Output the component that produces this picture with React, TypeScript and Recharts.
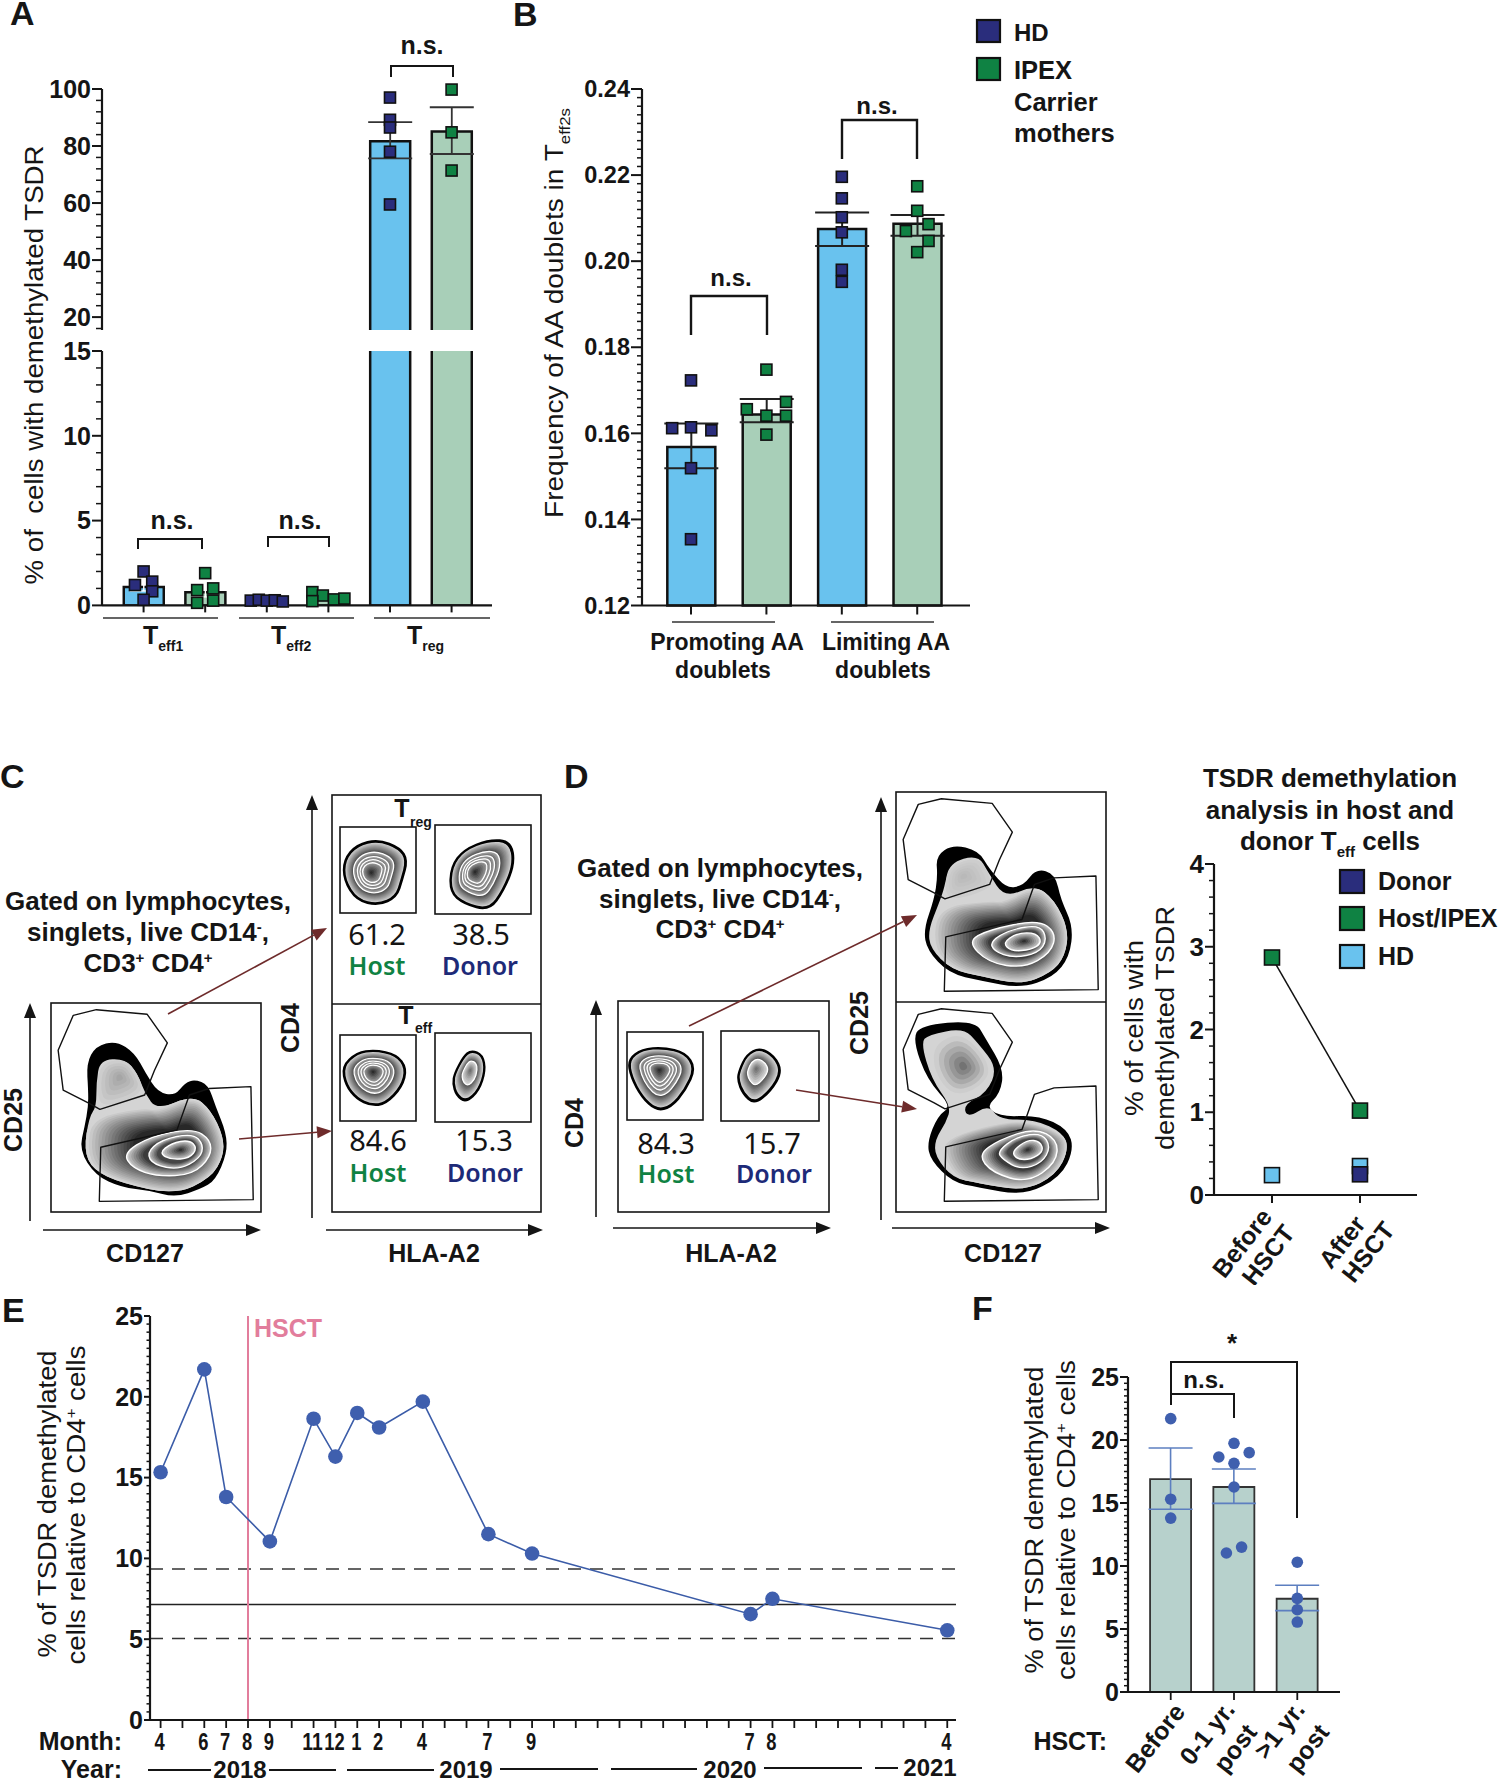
import React from 'react';
import { ComposedChart, ScatterChart, Scatter, Bar, Cell, Line, XAxis, YAxis, ErrorBar, ReferenceLine } from 'recharts';

/* ---------- palette ---------- */
const INK = '#151515';
const NAVY = '#2a2d7c';
const GREEN = '#0f8243';
const SKY = '#69c2ee';
const MINT = '#a8cfb8';
const TEAL = '#b7d1cc';
const DOT = '#3f5fae';
const PINK = '#e27d9c';
const MAROON = '#6e2b2b';
const SANS = '"Liberation Sans", Arial, sans-serif';
const NOTO = '"Noto Sans", sans-serif';

/* ---------- panel A ---------- */
const aMeans = [1.08, 0.78, 0.45, 0.5, 81.7, 85.1];
const aErrors: ([number, number] | null)[] = [[0.23, 0.22], [0.28, 0.3], null, null, [6, 6.7], [7.9, 8.5]];
const aFills = [SKY, MINT, SKY, MINT, SKY, MINT];
const aHdLow = [
  { x: -0.14, y: 1.2 }, { x: 0, y: 2.0 }, { x: 0.14, y: 1.4 }, { x: 0.14, y: 0.83 }, { x: 0, y: 0.33 },
  { x: 1.74, y: 0.28 }, { x: 1.87, y: 0.33 }, { x: 2, y: 0.28 }, { x: 2.13, y: 0.3 }, { x: 2.26, y: 0.23 },
];
const aIpexLow = [
  { x: 1, y: 1.9 }, { x: 0.87, y: 0.9 }, { x: 1.13, y: 1.0 }, { x: 1.13, y: 0.28 }, { x: 0.87, y: 0.15 },
  { x: 2.74, y: 0.78 }, { x: 2.91, y: 0.58 }, { x: 2.74, y: 0.25 }, { x: 3.09, y: 0.35 }, { x: 3.26, y: 0.4 },
];
const aHdHigh = [{ x: 4, y: 97 }, { x: 4, y: 89.2 }, { x: 4, y: 86.5 }, { x: 4, y: 78 }, { x: 4, y: 59.5 }];
const aIpexHigh = [{ x: 5, y: 99.8 }, { x: 5, y: 84.8 }, { x: 5, y: 71.4 }];
const aUpperTicks = [16, 20, 24, 28, 32, 36, 40, 44, 48, 52, 56, 60, 64, 68, 72, 76, 80, 84, 88, 92, 96, 100];
const aLowerTicks = [0, 1, 2, 3, 4, 5, 6, 7, 8, 9, 10, 11, 12, 13, 14, 15];
const aPositions = [0, 1, 2, 3, 4, 5];

/* ---------- panel B ---------- */
const bMeans = [0.1568, 0.1644, 0.2075, 0.2087];
const bErrors: [number, number][] = [[0.0049, 0.0055], [0.0018, 0.0036], [0.004, 0.0038], [0.0028, 0.002]];
const bFills = [SKY, MINT, SKY, MINT];
const bHd = [
  { x: 0, y: 0.1723 }, { x: -0.25, y: 0.1612 }, { x: 0, y: 0.1614 }, { x: 0.27, y: 0.1607 }, { x: 0, y: 0.1519 }, { x: 0, y: 0.1354 },
  { x: 2, y: 0.2196 }, { x: 2, y: 0.2146 }, { x: 2, y: 0.2102 }, { x: 2, y: 0.2067 }, { x: 2, y: 0.198 }, { x: 2, y: 0.1952 },
];
const bIpex = [
  { x: 1, y: 0.1748 }, { x: 1.26, y: 0.1673 }, { x: 0.74, y: 0.1656 }, { x: 1.26, y: 0.1641 }, { x: 1, y: 0.1641 }, { x: 1, y: 0.1597 },
  { x: 3, y: 0.2174 }, { x: 3, y: 0.2117 }, { x: 3.15, y: 0.2086 }, { x: 2.85, y: 0.207 }, { x: 3.15, y: 0.2047 }, { x: 3, y: 0.2021 },
];
const bPositions = [0, 1, 2, 3];
const bTicks: number[] = [];
for (let k = 0; k <= 60; k++) bTicks.push(Number((0.12 + k * 0.002).toFixed(3)));

/* ---------- panel D, small plot ---------- */
const dHost = [{ x: 0, y: 2.87 }, { x: 1, y: 1.02 }];
const dHd = [{ x: 0, y: 0.24 }, { x: 1, y: 0.35 }];
const dDonor = [{ x: 1, y: 0.25 }];
const dTickLines = [['Before', 'HSCT'], ['After', 'HSCT']];
const dYTicks = [0, 0.2, 0.4, 0.6, 0.8, 1, 1.2, 1.4, 1.6, 1.8, 2, 2.2, 2.4, 2.6, 2.8, 3, 3.2, 3.4, 3.6, 3.8, 4];

/* ---------- panel E ---------- */
const eMonthIndex = [0, 2, 3, 5, 7, 8, 9, 10, 12, 15, 17, 27, 28, 36];
const eValues = [15.33, 21.7, 13.8, 11.05, 18.64, 16.3, 19, 18.1, 19.7, 11.5, 10.3, 6.55, 7.5, 5.55];
const eTickIndex = [4, 6, 7, 8, 9, 11, 12, 1, 2, 4, 7, 9, 7, 8, 4];
const eTickAt = [0, 2, 3, 4, 5, 7, 8, 9, 10, 12, 15, 17, 27, 28, 36];
const eAllMonths: number[] = [];
for (let k = 0; k <= 36; k++) eAllMonths.push(k);
const eYTicks: number[] = [];
for (let k = 0; k <= 50; k++) eYTicks.push(k / 2);
const eUpperBand = 9.34;
const eMean = 7.14;
const eLowerBand = 5.04;
const eHsct = 4;

/* ---------- panel F ---------- */
const fMeans = [16.9, 16.27, 7.4];
const fErrors: [number, number][] = [[2.4, 2.47], [1.3, 1.43], [0.94, 1.07]];
const fPoints = [
  { x: 0, y: 21.7 }, { x: 0, y: 15.3 }, { x: 0, y: 13.8 },
  { x: 1, y: 19.74 }, { x: 0.76, y: 18.65 }, { x: 1.24, y: 19 }, { x: 1, y: 18.15 }, { x: 1, y: 16.27 }, { x: 1.12, y: 11.5 }, { x: 0.88, y: 11.03 },
  { x: 2, y: 10.3 }, { x: 2, y: 7.43 }, { x: 2, y: 6.53 }, { x: 2, y: 5.55 },
];
const fTickLines = [['Before'], ['0-1 yr.', 'post'], ['>1 yr.', 'post']];

/* ---------- flow cytometry outlines (0-100 inside each plot box) ---------- */
type Pt = [number, number];
const gateTop: Pt[] = [[10.6, 5.9], [21.6, 3.2], [45.8, 5.4], [55.4, 19.1], [49.2, 32.4], [44.6, 44], [23.3, 50.9], [18.2, 48], [5.8, 41.7], [3.4, 22.6]];
const gateBottom: Pt[] = [[75.3, 40.9], [95.2, 40], [96.3, 94.1], [23, 94.9], [23.7, 69], [60, 60.7], [65.9, 44]];

const cBlack: Pt[] = [[31, 18.6], [39.5, 24.2], [44.6, 33.7], [50.6, 43.2], [59.1, 44.8], [64.2, 38.5], [68.5, 37.2], [74.4, 39.3], [77.9, 49.6], [83, 62.3], [83.3, 71.9], [77.9, 84.6], [71, 88.6], [59.1, 92.5], [47.2, 89.3], [33.6, 87.8], [21.6, 82.2], [14, 70.3], [16.5, 59.1], [18.2, 49.6], [18.2, 41.7], [17.4, 28.9], [21.6, 21]];
const cInner: Pt[] = [[23.3, 27.3], [35.2, 26.6], [41.2, 33.7], [44.6, 43.2], [50.6, 51.2], [67.6, 44], [76.1, 51.2], [82.1, 63.9], [82.1, 73.4], [76.1, 83.8], [59.1, 91.7], [33.6, 86.2], [19.9, 79.8], [15.7, 70.3], [18.2, 54.4], [21.6, 49.6], [21.6, 37.9]];
const cLobe: Pt[] = [[23.3, 28.9], [35.2, 26.6], [41.2, 33.7], [44.6, 43.2], [25, 50.4], [21.6, 43.2]];
const cCore: Pt[] = [[15.7, 70.3], [18.2, 54.4], [43.8, 49.6], [50.6, 51.2], [67.6, 44], [76.1, 51.2], [82.1, 63.9], [82.1, 73.4], [76.1, 83.8], [59.1, 91.7], [33.6, 86.2], [19.9, 79.8]];
const cC1: Pt[] = [[34.4, 71.9], [47.2, 63.9], [67.6, 59.9], [76.1, 65.5], [76.1, 73.4], [67.6, 82.2], [50.6, 83], [38.7, 79]];
const cC2: Pt[] = [[45.5, 71.9], [52.3, 65.5], [67.6, 62.3], [72.7, 67.9], [71, 74.3], [60.8, 79.8], [48.9, 77.4]];
const cC3: Pt[] = [[51.4, 71.9], [57.4, 67], [65.9, 65.5], [69.7, 69.5], [65.9, 74.3], [57.4, 75]];

const dtBlack: Pt[] = [[27.1, 25.6], [38.9, 28.3], [44.1, 37], [52.5, 46.5], [61, 44.9], [66.9, 37], [75.4, 39.4], [78, 51.3], [83.9, 64], [82.2, 78.3], [74.6, 87.8], [59.3, 92.9], [40.7, 89.4], [25.4, 86], [15.3, 75.1], [13.6, 65.6], [18.6, 51.3], [20.3, 40.2], [19.5, 30.6]];
const dtInner: Pt[] = [[25.4, 33.8], [39, 29.8], [44.1, 38.6], [51.7, 50.5], [66.1, 44.2], [75.4, 51.3], [82.2, 65.6], [80.5, 78.3], [73.7, 86.2], [59.3, 91.8], [40.7, 87.8], [26.3, 84.6], [16.3, 74.3], [15.4, 65.6], [20.5, 52.9], [23, 45.7]];
const dtLobe: Pt[] = [[25.4, 35], [39, 31], [44.1, 38.6], [46, 46], [26, 52], [23, 45.7]];
const dtCore: Pt[] = [[16.3, 74.3], [18.6, 54.4], [44.1, 51.3], [50.8, 52.1], [66.1, 44.2], [75.4, 51.3], [82.2, 65.6], [80.5, 78.3], [73.7, 86.2], [59.3, 91.8], [40.7, 87.8], [26.3, 84.6]];
const dtC1: Pt[] = [[33.9, 71.1], [44.1, 65.6], [67.8, 60.8], [76.3, 67.1], [73.7, 76.7], [61, 83.8], [44.1, 81.4]];
const dtC2: Pt[] = [[44.9, 71.1], [54.2, 65.6], [68.6, 63.2], [72, 70.3], [67.8, 76.7], [55.9, 79], [46.6, 75.9]];
const dtC3: Pt[] = [[50.8, 71.9], [57.6, 67.1], [66.9, 67.1], [69.5, 71.9], [64.4, 75.1], [55.1, 75.9]];

const dbBlack: Pt[] = [[11.9, 11.6], [37.3, 9.2], [42.4, 17.9], [50.8, 32.2], [49.2, 43.3], [42.4, 49.7], [49.2, 55.2], [67.8, 54.4], [81.4, 60.8], [84.2, 70.3], [78, 83], [61, 91.7], [39, 87.8], [27.1, 85.4], [16.9, 75], [15.3, 67], [20.3, 54.4], [27.1, 49.7], [15.3, 37], [8.5, 18]];
const dbInner: Pt[] = [[15.3, 15.6], [32.2, 12.4], [39, 19.5], [48.3, 31.4], [43.2, 43.3], [32.2, 48.9], [33.9, 55.2], [44.1, 49], [49.2, 56], [66.1, 56], [79.7, 62.4], [82.2, 70.3], [76.3, 82.2], [61, 90.1], [39, 86.2], [27.1, 83.8], [18.6, 73.5], [18.6, 65.6], [23.7, 57.6], [26.3, 49.7], [17, 37], [11.9, 19.5]];
const dbLobe: Pt[] = [[18, 20], [32, 14], [46, 31], [40, 41], [27, 45], [18, 33]];
const dbCore: Pt[] = [[20.3, 70.3], [25.4, 64], [44.1, 58.4], [61, 56], [79.7, 62.4], [82.2, 70.3], [76.3, 82.2], [61, 90.1], [39, 86.2], [27.1, 83.8]];
const dbC1: Pt[] = [[39, 72.7], [49.2, 65.6], [66.1, 60], [77.1, 65.6], [76.3, 76.7], [62.7, 86.2], [45.8, 81.4]];
const dbC2: Pt[] = [[48.3, 71.1], [57.6, 64], [69.5, 62.4], [73.7, 69], [69.5, 76.7], [59.3, 79.8], [50.8, 75]];
const dbC3: Pt[] = [[55.1, 71.1], [62.7, 65.6], [68.6, 66.3], [70.3, 71.1], [64.4, 75], [57.6, 75]];

const smallTregHost: Pt[] = [[6, 38.5], [22.4, 21.2], [50.5, 15.4], [78.5, 25], [87.9, 38.5], [80.8, 61.5], [73.8, 80.8], [50.5, 90.4], [22.4, 84.6], [6, 61.5]];
const smallTregDonor: Pt[] = [[17.4, 47], [30.4, 28.4], [56.3, 17.2], [78.5, 19], [82.2, 43.3], [71, 73.1], [56.3, 95.5], [30.4, 88], [16.3, 75]];
const smallTeffHost: Pt[] = [[3.7, 36.8], [22.4, 21.3], [45.8, 18.2], [73.8, 23.3], [86.9, 38.8], [80.8, 60.1], [59.8, 79.5], [41.1, 81.4], [22.4, 73.6], [8.4, 58.1]];
const smallTeffDonor: Pt[] = [[21.1, 45.5], [30.4, 26.9], [37.8, 20.1], [48.9, 25], [51.8, 41.8], [45.2, 64.2], [32.2, 77.2], [22.9, 69.8], [19.3, 56.7]];
const smallDHost: Pt[] = [[2.3, 31.6], [20, 20.2], [48.1, 18.3], [76.2, 24], [89.3, 41], [76.2, 65.8], [57.5, 84.8], [38.8, 88.6], [20, 73.5], [6, 50.7]];
const smallDDonor: Pt[] = [[19.4, 43.5], [26.7, 26.8], [39.6, 19.3], [54.2, 28.6], [61.5, 45.3], [50.5, 65.8], [34, 80.7], [23, 69.5], [17.6, 54.6]];

/* ---------- flow layer builders ---------- */
type Layer = { pts: Pt[]; fill: string; stroke: string; sw: number; smooth: boolean };
const grey = (g: number) => `rgb(${Math.round(g)},${Math.round(g)},${Math.round(g)})`;
const shrink = (o: Pt[], c: Pt, s: number): Pt[] => o.map(([x, y]) => [c[0] + (x - c[0]) * s, c[1] + (y - c[1]) * s]);
function band(o: Pt[], c: Pt, s0: number, s1: number, g0: number, g1: number, n: number, edge: string, esw: number): Layer[] {
  const out: Layer[] = [];
  for (let i = 0; i < n; i++) {
    const t = n === 1 ? 0 : i / (n - 1);
    out.push({
      pts: shrink(o, c, s0 + (s1 - s0) * t),
      fill: grey(g0 + (g1 - g0) * t),
      stroke: i === 0 ? edge : 'none',
      sw: i === 0 ? esw : 0,
      smooth: true,
    });
  }
  return out;
}
function smallBlob(o: Pt[], c: Pt, rings: number): Layer[] {
  if (rings === 1) {
    return [
      ...band(o, c, 1, 0.5, 222, 70, 12, '#000', 3.5),
      ...band(o, c, 0.5, 0, 215, 95, 8, '#fff', 1.3),
    ];
  }
  return [
    ...band(o, c, 1, 0.66, 215, 62, 12, '#000', 3.5),
    ...band(o, c, 0.66, 0.52, 170, 85, 5, '#fff', 1.3),
    ...band(o, c, 0.52, 0.42, 165, 95, 4, '#fff', 1.3),
    ...band(o, c, 0.42, 0.32, 165, 95, 4, '#fff', 1.3),
    ...band(o, c, 0.32, 0, 150, 25, 8, '#fff', 1.3),
  ];
}
function bigBlob(black: Pt[], inner: Pt[], lobe: Pt[], lobeC: Pt, lobeEnd: number, core: Pt[], c1: Pt[], c2: Pt[], c3: Pt[], c: Pt): Layer[] {
  return [
    { pts: black, fill: '#000', stroke: '#000', sw: 2, smooth: true },
    { pts: inner, fill: grey(212), stroke: 'none', sw: 0, smooth: true },
    ...band(lobe, lobeC, 1, 0.15, 205, lobeEnd, 6, 'none', 0),
    ...band(core, c, 1, 0.5, 212, 40, 16, 'none', 0),
    ...band(c1, c, 1, 0.7, 200, 60, 8, '#fff', 1.4),
    ...band(c2, c, 1, 0.75, 190, 70, 6, '#fff', 1.4),
    ...band(c3, c, 1, 0, 200, 25, 9, '#fff', 1.4),
  ];
}
const gateLayers: Layer[] = [
  { pts: gateTop, fill: 'none', stroke: '#111', sw: 1.4, smooth: false },
  { pts: gateBottom, fill: 'none', stroke: '#111', sw: 1.4, smooth: false },
];
const layersC = [...bigBlob(cBlack, cInner, cLobe, [32.7, 35.3], 165, cCore, cC1, cC2, cC3, [61.7, 70.3]), ...gateLayers];
const layersDT = [...bigBlob(dtBlack, dtInner, dtLobe, [32, 40], 185, dtCore, dtC1, dtC2, dtC3, [61, 71]), ...gateLayers];
const layersDB = [...bigBlob(dbBlack, dbInner, dbLobe, [32.2, 30.6], 115, dbCore, dbC1, dbC2, dbC3, [62.7, 70.3]), ...gateLayers];

function pathOf(pts: { x: number; y: number }[], smooth: boolean) {
  if (!smooth) return 'M' + pts.map((p) => `${p.x},${p.y}`).join('L') + 'Z';
  const n = pts.length;
  const mid = (a: any, b: any) => ({ x: (a.x + b.x) / 2, y: (a.y + b.y) / 2 });
  const s = mid(pts[n - 1], pts[0]);
  let d = `M${s.x},${s.y}`;
  for (let i = 0; i < n; i++) {
    const m = mid(pts[i], pts[(i + 1) % n]);
    d += `Q${pts[i].x},${pts[i].y} ${m.x},${m.y}`;
  }
  return d + 'Z';
}

function FlowPlot({ left, top, width, height, layers }: { left: number; top: number; width: number; height: number; layers: Layer[] }) {
  return (
    <div style={{ position: 'absolute', left, top }}>
      <ScatterChart width={width} height={height} margin={{ top: 0, right: 0, bottom: 0, left: 0 }}>
        <XAxis type="number" dataKey="x" domain={[0, 100]} hide />
        <YAxis type="number" dataKey="y" domain={[0, 100]} reversed hide />
        {layers.map((l, i) => (
          <Scatter
            key={i}
            data={l.pts.map(([x, y]) => ({ x, y }))}
            isAnimationActive={false}
            shape={() => <g />}
            line={(p: any) => <path d={pathOf(p.points, l.smooth)} fill={l.fill} stroke={l.stroke} strokeWidth={l.sw} strokeLinejoin="round" />}
          />
        ))}
      </ScatterChart>
    </div>
  );
}

/* ---------- marks and ticks ---------- */
const square = (fill: string, size = 11) => (p: any) => (
  <rect x={p.cx - size / 2} y={p.cy - size / 2} width={size} height={size} fill={fill} stroke="#111" strokeWidth={1.6} />
);
const circle = (r: number) => (p: any) => <circle cx={p.cx} cy={p.cy} r={r} fill={DOT} />;

function yTick(isMajor: (v: number) => boolean, fmt: (v: number) => string, fs: number, majorLen: number, minorLen: number) {
  return (p: any) => {
    const v = p.payload.value;
    const major = isMajor(v);
    return (
      <g>
        <line x1={p.x} x2={p.x - (major ? majorLen : minorLen)} y1={p.y} y2={p.y} stroke={INK} strokeWidth={major ? 2 : 1.5} />
        {major ? (
          <text x={p.x - majorLen - 1} y={p.y} dy="0.35em" textAnchor="end" fontFamily={SANS} fontWeight="bold" fontSize={fs} fill={INK}>
            {fmt(v)}
          </text>
        ) : null}
      </g>
    );
  };
}
const xTickPlain = (len: number) => (p: any) => (
  <line x1={p.x} x2={p.x} y1={p.y} y2={p.y + len} stroke={INK} strokeWidth={2} />
);
const axisStyle = { stroke: INK, strokeWidth: 2.2 };

const T = ({ x, y, s = 24, b = false, a = 'start', c = INK, rot, len, f = SANS, children }: any) => (
  <text
    x={rot === undefined ? x : 0}
    y={rot === undefined ? y : 0}
    transform={rot === undefined ? undefined : `translate(${x} ${y}) rotate(${rot})`}
    fontFamily={f}
    fontSize={s}
    fontWeight={b === true ? 'bold' : b === false ? 'normal' : b}
    textAnchor={a}
    fill={c}
    textLength={len}
    lengthAdjust={len ? 'spacingAndGlyphs' : undefined}
  >
    {children}
  </text>
);
const Arrow = ({ x1, y1, x2, y2, color = INK, head = 15, hw = 6, sw = 1.6 }: any) => {
  const ang = Math.atan2(y2 - y1, x2 - x1);
  const bx = x2 - head * Math.cos(ang);
  const by = y2 - head * Math.sin(ang);
  const nx = -Math.sin(ang) * hw;
  const ny = Math.cos(ang) * hw;
  return (
    <g>
      <line x1={x1} y1={y1} x2={bx} y2={by} stroke={color} strokeWidth={sw} />
      <polygon points={`${x2},${y2} ${bx + nx},${by + ny} ${bx - nx},${by - ny}`} fill={color} />
    </g>
  );
};
const Bracket = ({ x1, x2, top, d1, d2, sw = 2 }: any) => (
  <path d={`M${x1},${d1}V${top}H${x2}V${d2}`} fill="none" stroke={INK} strokeWidth={sw} />
);
const Box = ({ x1, y1, x2, y2 }: any) => <rect x={x1} y={y1} width={x2 - x1} height={y2 - y1} fill="none" stroke={INK} strokeWidth={1.6} />;

const hide = { isAnimationActive: false };

/* ---------- panel A charts ---------- */
const A_XDOM: [number, number] = [-0.675, 5.656];
function PanelA() {
  const upperRows = [4, 5].map((i) => ({ x: aPositions[i], y: aMeans[i], err: aErrors[i] }));
  const lowerFilled = aPositions.map((p, i) => ({ x: p, y: aMeans[i], err: i < 2 ? aErrors[i] : undefined }));
  const major20 = (v: number) => v % 20 === 0;
  const major5 = (v: number) => v % 5 === 0;
  return (
    <>
      <div style={{ position: 'absolute', left: 0, top: 68.5 }}>
        <ComposedChart width={500} height={261.5} data={upperRows} margin={{ top: 20, right: 8, bottom: 0, left: 0 }}>
          <XAxis type="number" dataKey="x" domain={A_XDOM} ticks={aPositions} hide />
          <YAxis width={102} type="number" dataKey="y" domain={[15.3, 100]} ticks={aUpperTicks} interval={0} tickSize={0} tickMargin={0} tickLine={false} axisLine={axisStyle} tick={yTick(major20, String, 25, 10, 6)} />
          <Bar
            dataKey="y"
            barSize={40}
            {...hide}
            shape={(p: any) => (
              <g>
                <rect x={p.x} y={p.y} width={p.width} height={p.height} fill={aFills[4 + p.index]} />
                <path d={`M${p.x},${p.y + p.height}V${p.y}H${p.x + p.width}V${p.y + p.height}`} fill="none" stroke="#111" strokeWidth={2.5} />
              </g>
            )}
          >
            <ErrorBar dataKey="err" width={22} stroke="#333" strokeWidth={1.8} />
          </Bar>
          <Scatter data={aHdHigh} shape={square(NAVY)} {...hide} />
          <Scatter data={aIpexHigh} shape={square(GREEN)} {...hide} />
        </ComposedChart>
      </div>
      <div style={{ position: 'absolute', left: 0, top: 338.6 }}>
        <ComposedChart width={500} height={296.4} data={lowerFilled} margin={{ top: 12, right: 8, bottom: 0, left: 0 }}>
          <XAxis type="number" dataKey="x" height={30} domain={A_XDOM} ticks={aPositions} interval={0} tickSize={0} tickMargin={0} tickLine={false} axisLine={axisStyle} tick={xTickPlain(7)} />
          <YAxis width={102} type="number" dataKey="y" domain={[0, 15]} allowDataOverflow ticks={aLowerTicks} interval={0} tickSize={0} tickMargin={0} tickLine={false} axisLine={axisStyle} tick={yTick(major5, String, 25, 10, 6)} />
          <Bar dataKey="y" barSize={40} stroke="#111" strokeWidth={2.5} {...hide}>
            {aPositions.map((p, i) => <Cell key={p} fill={aFills[i]} />)}
            <ErrorBar dataKey="err" width={14} stroke="#fff" strokeWidth={1.4} />
          </Bar>
        </ComposedChart>
      </div>
      <div style={{ position: 'absolute', left: 0, top: 338.6 }}>
        <ScatterChart width={500} height={291.8} margin={{ top: 12, right: 8, bottom: 0, left: 102 }}>
          <XAxis type="number" dataKey="x" domain={A_XDOM} hide />
          <YAxis type="number" dataKey="y" domain={[-1.5, 15]} hide />
          <Scatter data={aHdLow} shape={square(NAVY)} {...hide} />
          <Scatter data={aIpexLow} shape={square(GREEN)} {...hide} />
        </ScatterChart>
      </div>
    </>
  );
}

function PanelB() {
  const rows = bPositions.map((p, i) => ({ x: p, y: bMeans[i], err: bErrors[i] }));
  const major = (v: number) => Math.abs(v / 0.02 - Math.round(v / 0.02)) < 1e-6;
  return (
    <>
      <div style={{ position: 'absolute', left: 520, top: 68.5 }}>
        <ComposedChart width={460} height={566.5} data={rows} margin={{ top: 20, right: 10, bottom: 0, left: 0 }}>
          <XAxis type="number" dataKey="x" height={30} domain={[-0.65, 3.7]} ticks={bPositions} interval={0} tickSize={0} tickMargin={0} tickLine={false} axisLine={axisStyle} tick={xTickPlain(9)} />
          <YAxis width={122} type="number" dataKey="y" domain={[0.12, 0.24]} ticks={bTicks} interval={0} tickSize={0} tickMargin={0} tickLine={false} axisLine={axisStyle} tick={yTick(major, (v) => v.toFixed(2), 23.5, 11, 5)} />
          <Bar dataKey="y" barSize={48} stroke="#111" strokeWidth={2.5} {...hide}>
            {bPositions.map((p, i) => <Cell key={p} fill={bFills[i]} />)}
            <ErrorBar dataKey="err" width={27} stroke="#222" strokeWidth={2} />
          </Bar>
        </ComposedChart>
      </div>
      <div style={{ position: 'absolute', left: 520, top: 68.5 }}>
        <ScatterChart width={460} height={566.5} margin={{ top: 20, right: 10, bottom: 30, left: 122 }}>
          <XAxis type="number" dataKey="x" domain={[-0.65, 3.7]} hide />
          <YAxis type="number" dataKey="y" domain={[0.12, 0.24]} hide />
          <Scatter data={bHd} shape={square(NAVY)} {...hide} />
          <Scatter data={bIpex} shape={square(GREEN)} {...hide} />
        </ScatterChart>
      </div>
    </>
  );
}

const dTickOffsets = [
  [[-30, 48], [-4, 60]],
  [[-18, 47], [8, 57]],
];
function PanelDSmall() {
  const tick = (p: any) => (
    <g>
      <line x1={p.x} x2={p.x} y1={p.y} y2={p.y + 8} stroke={INK} strokeWidth={2} />
      {dTickLines[p.payload.value].map((t, i) => (
        <text key={t} transform={`translate(${p.x + dTickOffsets[p.payload.value][i][0]} ${p.y + dTickOffsets[p.payload.value][i][1]}) rotate(-52)`} textAnchor="middle" dy="0.35em" fontFamily={SANS} fontWeight="bold" fontSize={25} fill={INK}>
          {t}
        </text>
      ))}
    </g>
  );
  return (
    <div style={{ position: 'absolute', left: 1100, top: 844 }}>
      <ComposedChart width={330} height={441} margin={{ top: 20, right: 13, bottom: 0, left: 0 }}>
        <XAxis type="number" dataKey="x" height={90} domain={[-0.659, 1.648]} ticks={[0, 1]} interval={0} tickSize={0} tickMargin={0} tickLine={false} axisLine={axisStyle} tick={tick} />
        <YAxis width={114} type="number" dataKey="y" domain={[0, 4]} ticks={dYTicks} interval={0} tickSize={0} tickMargin={0} tickLine={false} axisLine={axisStyle} tick={yTick((v) => Number.isInteger(v), String, 26, 9, 5)} />
        <Line data={dHost} dataKey="y" stroke="#111" strokeWidth={1.5} dot={false} legendType="none" {...hide} />
        <Scatter data={dHd} shape={square(SKY, 15)} {...hide} />
        <Scatter data={dDonor} shape={square(NAVY, 15)} {...hide} />
        <Scatter data={dHost} shape={square(GREEN, 15)} {...hide} />
      </ComposedChart>
    </div>
  );
}

function PanelE() {
  const rows = eMonthIndex.map((m, i) => ({ x: m, y: eValues[i] }));
  const tick = (p: any) => {
    const at = eTickAt.indexOf(p.payload.value);
    const label = at >= 0 ? String(eTickIndex[at]) : '';
    return (
      <g>
        <line x1={p.x} x2={p.x} y1={p.y} y2={p.y + 8} stroke={INK} strokeWidth={1.8} />
        {at >= 0 ? (
          <text x={p.x - 1} y={p.y + 30} textAnchor="middle" fontFamily={SANS} fontWeight="bold" fontSize={24} fill={INK} textLength={label.length * 10.2} lengthAdjust="spacingAndGlyphs">
            {label}
          </text>
        ) : null}
      </g>
    );
  };
  return (
    <div style={{ position: 'absolute', left: 0, top: 1296 }}>
      <ComposedChart width={970} height={479} data={rows} margin={{ top: 20, right: 14, bottom: 0, left: 0 }}>
        <XAxis type="number" dataKey="x" height={55} domain={[-0.485, 36.4]} ticks={eAllMonths} interval={0} tickSize={0} tickMargin={0} tickLine={false} axisLine={axisStyle} tick={tick} />
        <YAxis width={150} type="number" dataKey="y" domain={[0, 25]} ticks={eYTicks} interval={0} tickSize={0} tickMargin={0} tickLine={false} axisLine={axisStyle} tick={yTick((v) => v % 5 === 0, String, 25, 6, 3.5)} />
        <ReferenceLine y={eUpperBand} stroke="#333" strokeWidth={1.5} strokeDasharray="13 9" />
        <ReferenceLine y={eMean} stroke="#222" strokeWidth={1.5} />
        <ReferenceLine y={eLowerBand} stroke="#333" strokeWidth={1.5} strokeDasharray="13 9" />
        <ReferenceLine x={eHsct} stroke={PINK} strokeWidth={2} />
        <Line dataKey="y" stroke="#3b5ca8" strokeWidth={1.6} dot={circle(7.3)} {...hide} />
      </ComposedChart>
    </div>
  );
}

const fTickOffsets = [
  [[-15.7, 46]],
  [[-27, 41], [1, 56]],
  [[-18, 38], [10, 56]],
];
function PanelF() {
  const rows = fMeans.map((y, i) => ({ x: i, y, err: fErrors[i] }));
  const tick = (p: any) => (
    <g>
      <line x1={p.x} x2={p.x} y1={p.y} y2={p.y + 8} stroke={INK} strokeWidth={1.8} />
      {fTickLines[p.payload.value].map((t, i) => (
        <text key={t} transform={`translate(${p.x + fTickOffsets[p.payload.value][i][0]} ${p.y + fTickOffsets[p.payload.value][i][1]}) rotate(-52)`} textAnchor="middle" dy="0.35em" fontFamily={SANS} fontWeight="bold" fontSize={25} fill={INK}>
          {t}
        </text>
      ))}
    </g>
  );
  return (
    <>
      <div style={{ position: 'absolute', left: 1060, top: 1356.7 }}>
        <ComposedChart width={290} height={420} data={rows} margin={{ top: 20, right: 10, bottom: 0, left: 0 }}>
          <XAxis type="number" dataKey="x" height={85} domain={[-0.675, 2.675]} ticks={[0, 1, 2]} interval={0} tickSize={0} tickMargin={0} tickLine={false} axisLine={axisStyle} tick={tick} />
          <YAxis width={68} type="number" dataKey="y" domain={[0, 25]} ticks={eYTicks} interval={0} tickSize={0} tickMargin={0} tickLine={false} axisLine={axisStyle} tick={yTick((v) => v % 5 === 0, String, 25, 8, 4)} />
          <Bar dataKey="y" barSize={41} fill={TEAL} stroke="#333" strokeWidth={1.8} {...hide}>
            <ErrorBar dataKey="err" width={22} stroke="#5d7fc0" strokeWidth={1.6} />
          </Bar>
        </ComposedChart>
      </div>
      <div style={{ position: 'absolute', left: 1060, top: 1356.7 }}>
        <ScatterChart width={290} height={420} margin={{ top: 20, right: 10, bottom: 85, left: 68 }}>
          <XAxis type="number" dataKey="x" domain={[-0.675, 2.675]} hide />
          <YAxis type="number" dataKey="y" domain={[0, 25]} hide />
          <Scatter data={fPoints} shape={circle(5.8)} {...hide} />
        </ScatterChart>
      </div>
    </>
  );
}

function Overlay() {
  const Sub = ({ children, dy = 7, s = 14 }: any) => <tspan dy={dy} fontSize={s}>{children}</tspan>;
  const Sup = ({ children, s = 15 }: any) => <tspan dy={-9} fontSize={s}>{children}</tspan>;
  return (
    <svg width={1500} height={1779} style={{ position: 'absolute', left: 0, top: 0, pointerEvents: 'none' }}>
      {/* panel letters */}
      <T x={10} y={25} s={34} b>A</T>
      <T x={513} y={26} s={34} b>B</T>
      <T x={0} y={788} s={34} b>C</T>
      <T x={564} y={788} s={34} b>D</T>
      <T x={2} y={1322} s={34} b>E</T>
      <T x={972} y={1320} s={34} b>F</T>

      {/* A */}
      <T x={43} y={365} rot={-90} a="middle" s={25} len={439}>{'% of\u00a0 cells with demethylated TSDR'}</T>
      <Bracket x1={391} x2={453} top={66} d1={77} d2={77} />
      <T x={422} y={54} a="middle" b s={25}>n.s.</T>
      <Bracket x1={138} x2={202} top={539} d1={549} d2={549} />
      <T x={172} y={529} a="middle" b s={25}>n.s.</T>
      <Bracket x1={268} x2={329} top={537} d1={547} d2={547} />
      <T x={300} y={529} a="middle" b s={25}>n.s.</T>
      <path d="M103,618H218M239,618H354M374,618H490" stroke="#333" strokeWidth={1.5} fill="none" />
      <T x={143} y={644} b s={25}>T<Sub>eff1</Sub></T>
      <T x={271} y={644} b s={25}>T<Sub>eff2</Sub></T>
      <T x={407} y={644} b s={25}>T<Sub>reg</Sub></T>

      {/* B */}
      <T x={563} y={313} rot={-90} a="middle" s={25} len={410}>Frequency of AA doublets in T<Sub s={15}>eff2s</Sub></T>
      <Bracket x1={691} x2={767} top={296} d1={335} d2={335} sw={2.4} />
      <T x={731} y={286} a="middle" b s={24}>n.s.</T>
      <Bracket x1={842} x2={917} top={120} d1={159} d2={159} sw={2.4} />
      <T x={877} y={114} a="middle" b s={24}>n.s.</T>
      <path d="M672,622H775M831,622H934" stroke="#333" strokeWidth={1.6} fill="none" />
      <T x={727} y={650} a="middle" b s={23}>Promoting AA</T>
      <T x={723} y={678} a="middle" b s={23}>doublets</T>
      <T x={886} y={650} a="middle" b s={23}>Limiting AA</T>
      <T x={883} y={678} a="middle" b s={23}>doublets</T>
      <rect x={977} y={20} width={23} height={22} fill={NAVY} stroke="#111" strokeWidth={2.2} />
      <rect x={977} y={58} width={23} height={22} fill={GREEN} stroke="#111" strokeWidth={2.2} />
      <T x={1014} y={41} b s={24}>HD</T>
      <T x={1014} y={79} b s={25.5}>IPEX</T>
      <T x={1014} y={111} b s={25.5}>Carrier</T>
      <T x={1014} y={142} b s={25.5}>mothers</T>

      {/* C */}
      <Box x1={51} y1={1003} x2={261} y2={1212} />
      <Box x1={332} y1={795} x2={541} y2={1212} />
      <line x1={332} x2={541} y1={1004} y2={1004} stroke={INK} strokeWidth={1.6} />
      <Box x1={340} y1={827} x2={416} y2={913} />
      <Box x1={435} y1={825} x2={531} y2={914} />
      <Box x1={340} y1={1035} x2={416} y2={1121} />
      <Box x1={435} y1={1033} x2={531} y2={1122} />
      <Arrow x1={30} y1={1221} x2={30} y2={1003} />
      <Arrow x1={43} y1={1230} x2={261} y2={1230} />
      <Arrow x1={312} y1={1218} x2={312} y2={795} />
      <Arrow x1={326} y1={1230} x2={543} y2={1230} />
      <T x={22} y={1120} rot={-90} a="middle" b s={25}>CD25</T>
      <T x={145} y={1262} a="middle" b s={25}>CD127</T>
      <T x={299} y={1028} rot={-90} a="middle" b s={25}>CD4</T>
      <T x={434} y={1262} a="middle" b s={25}>HLA-A2</T>
      <Arrow x1={168} y1={1014} x2={327} y2={928} color={MAROON} />
      <Arrow x1={239} y1={1139} x2={332} y2={1131} color={MAROON} />
      <T x={148} y={910} a="middle" b s={26}>Gated on lymphocytes,</T>
      <T x={148} y={941} a="middle" b s={26}>singlets, live CD14<Sup>-</Sup><tspan dy={9}>,</tspan></T>
      <T x={148} y={972} a="middle" b s={26}>CD3<Sup>+</Sup><tspan dy={9}> CD4</tspan><Sup>+</Sup></T>
      <T x={402} y={817} a="middle" b s={25}>T</T>
      <T x={410} y={827} s={14} b>reg</T>
      <T x={406} y={1024} a="middle" b s={25}>T</T>
      <T x={415} y={1033} s={14} b>eff</T>
      <T x={377} y={945} a="middle" f={NOTO} s={29}>61.2</T>
      <T x={481} y={945} a="middle" f={NOTO} s={29}>38.5</T>
      <T x={377} y={975} a="middle" f={NOTO} s={25} b={600} c={GREEN}>Host</T>
      <T x={480} y={975} a="middle" f={NOTO} s={25} b={600} c="#1d2a78">Donor</T>
      <T x={378} y={1151} a="middle" f={NOTO} s={29}>84.6</T>
      <T x={484} y={1151} a="middle" f={NOTO} s={29}>15.3</T>
      <T x={378} y={1182} a="middle" f={NOTO} s={25} b={600} c={GREEN}>Host</T>
      <T x={485} y={1182} a="middle" f={NOTO} s={25} b={600} c="#1d2a78">Donor</T>

      {/* D */}
      <Box x1={618} y1={1001} x2={829} y2={1212} />
      <Box x1={627} y1={1032} x2={703} y2={1120} />
      <Box x1={721} y1={1031} x2={819} y2={1121} />
      <Box x1={896} y1={792} x2={1106} y2={1212} />
      <line x1={896} x2={1106} y1={1002} y2={1002} stroke={INK} strokeWidth={1.6} />
      <Arrow x1={596} y1={1217} x2={596} y2={1000} />
      <Arrow x1={613} y1={1228} x2={831} y2={1228} />
      <Arrow x1={881} y1={1220} x2={881} y2={797} />
      <Arrow x1={892} y1={1228} x2={1110} y2={1228} />
      <T x={583} y={1123} rot={-90} a="middle" b s={25}>CD4</T>
      <T x={731} y={1262} a="middle" b s={25}>HLA-A2</T>
      <T x={868} y={1023} rot={-90} a="middle" b s={25}>CD25</T>
      <T x={1003} y={1262} a="middle" b s={25}>CD127</T>
      <Arrow x1={689} y1={1026} x2={917} y2={915} color={MAROON} />
      <Arrow x1={796} y1={1090} x2={917} y2={1109} color={MAROON} />
      <T x={720} y={877} a="middle" b s={26}>Gated on lymphocytes,</T>
      <T x={720} y={908} a="middle" b s={26}>singlets, live CD14<Sup>-</Sup><tspan dy={9}>,</tspan></T>
      <T x={720} y={938} a="middle" b s={26}>CD3<Sup>+</Sup><tspan dy={9}> CD4</tspan><Sup>+</Sup></T>
      <T x={666} y={1154} a="middle" f={NOTO} s={29}>84.3</T>
      <T x={772} y={1154} a="middle" f={NOTO} s={29}>15.7</T>
      <T x={666} y={1183} a="middle" f={NOTO} s={25} b={600} c={GREEN}>Host</T>
      <T x={774} y={1183} a="middle" f={NOTO} s={25} b={600} c="#1d2a78">Donor</T>

      {/* D small chart */}
      <T x={1330} y={787} a="middle" b s={26}>TSDR demethylation</T>
      <T x={1330} y={819} a="middle" b s={26}>analysis in host and</T>
      <T x={1330} y={850} a="middle" b s={26}>donor T<Sub dy={7} s={15}>eff</Sub><tspan dy={-7}> cells</tspan></T>
      <T x={1143} y={1028} rot={-90} a="middle" s={25} len={176}>% of cells with</T>
      <T x={1174} y={1028} rot={-90} a="middle" s={25} len={244}>demethylated TSDR</T>
      <rect x={1340} y={870} width={24} height={23} fill={NAVY} stroke="#111" strokeWidth={2.2} />
      <rect x={1340} y={907} width={24} height={23} fill={GREEN} stroke="#111" strokeWidth={2.2} />
      <rect x={1340} y={945} width={24} height={23} fill={SKY} stroke="#111" strokeWidth={2.2} />
      <T x={1378} y={890} b s={25}>Donor</T>
      <T x={1378} y={927} b s={25}>Host/IPEX</T>
      <T x={1378} y={965} b s={25}>HD</T>

      {/* E */}
      <T x={254} y={1337} s={25} b c={PINK}>HSCT</T>
      <T x={56} y={1504} rot={-90} a="middle" s={25} len={307}>% of TSDR demethylated</T>
      <T x={85} y={1505} rot={-90} a="middle" s={25} len={319}>cells relative to CD4<Sup>+</Sup><tspan dy={9}> cells</tspan></T>
      <T x={122} y={1750} a="end" b s={25}>Month:</T>
      <T x={122} y={1778} a="end" b s={25}>Year:</T>
      <path d="M148,1770H211M269,1770H336M347,1770H434M500,1769H598M611,1769H697M764,1768H862M875,1768H898" stroke={INK} strokeWidth={2} fill="none" />
      <T x={240} y={1778} a="middle" b s={24}>2018</T>
      <T x={466} y={1778} a="middle" b s={24}>2019</T>
      <T x={730} y={1778} a="middle" b s={24}>2020</T>
      <T x={930} y={1776} a="middle" b s={24}>2021</T>

      {/* F */}
      <T x={1043} y={1520} rot={-90} a="middle" s={25} len={307}>% of TSDR demethylated</T>
      <T x={1075} y={1520} rot={-90} a="middle" s={25} len={320}>cells relative to CD4<Sup>+</Sup><tspan dy={9}> cells</tspan></T>
      <Bracket x1={1171} x2={1297} top={1362} d1={1405} d2={1518} />
      <Bracket x1={1171} x2={1234} top={1394} d1={1405} d2={1418} />
      <T x={1204} y={1388} a="middle" b s={24}>n.s.</T>
      <T x={1232} y={1352} a="middle" b s={26}>*</T>
      <T x={1107} y={1750} a="end" b s={25}>HSCT:</T>
    </svg>
  );
}

export default function App() {
  return (
    <div style={{ position: 'absolute', left: 0, top: 0, width: 1500, height: 1779, background: '#fff', overflow: 'hidden' }}>
      <PanelA />
      <PanelB />
      <FlowPlot left={51} top={1003} width={210} height={209} layers={layersC} />
      <FlowPlot left={340} top={827} width={76} height={86} layers={smallBlob(smallTregHost, [41, 53], 4)} />
      <FlowPlot left={435} top={825} width={96} height={89} layers={smallBlob(smallTregDonor, [41.5, 52.6], 4)} />
      <FlowPlot left={340} top={1035} width={76} height={86} layers={smallBlob(smallTeffHost, [43.5, 42.6], 4)} />
      <FlowPlot left={435} top={1033} width={96} height={89} layers={smallBlob(smallTeffDonor, [36.7, 41.8], 1)} />
      <FlowPlot left={627} top={1032} width={76} height={88} layers={smallBlob(smallDHost, [42.5, 43], 4)} />
      <FlowPlot left={721} top={1031} width={98} height={90} layers={smallBlob(smallDDonor, [35.9, 41.6], 1)} />
      <FlowPlot left={896} top={792} width={210} height={210} layers={layersDT} />
      <FlowPlot left={896} top={1002} width={210} height={210} layers={layersDB} />
      <PanelDSmall />
      <PanelE />
      <PanelF />
      <Overlay />
    </div>
  );
}
